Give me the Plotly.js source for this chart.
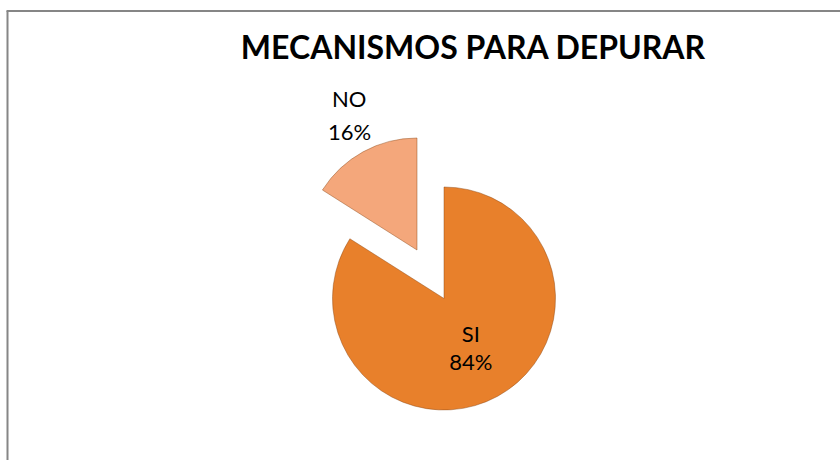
<!DOCTYPE html>
<html>
<head>
<meta charset="utf-8">
<script src="https://cdn.plot.ly/plotly-3.0.1.min.js"></script>
<style>html,body{margin:0;padding:0;background:#fff;}#chart{width:840px;height:460px;}</style>
</head>
<body>
<div id="chart"></div>
<script>
const categories = ['SI', 'NO'];
const values = [84, 16];
const chartTitle = 'MECANISMOS PARA DEPURAR';

const sliceColors = ['#E8802B', '#F4A77B'];
const fontFam = 'Lato, "Open Sans", sans-serif';

const total = values.reduce((a, b) => a + b, 0);
const pctText = values.map(v => Math.round(100 * v / total) + '%');

function pieTrace(showIdx, domain, textpos) {
  return {
    type: 'pie',
    labels: categories,
    values: values,
    sort: false,
    direction: 'clockwise',
    rotation: 0,
    domain: domain,
    marker: {
      colors: categories.map((c, i) => i === showIdx ? sliceColors[i] : 'rgba(0,0,0,0)'),
      line: {color: categories.map((c, i) => i === showIdx ? 'rgba(140,70,20,0.45)' : 'rgba(0,0,0,0)'), width: 1}
    },
    texttemplate: categories.map((c, i) => i === showIdx ? '%{label}<br>%{percent:.0%}' : ''),
    textposition: categories.map((c, i) => i === showIdx ? textpos : 'none'),
    insidetextorientation: 'horizontal',
    textfont: {family: fontFam, size: 22, color: '#000'},
    hoverinfo: 'skip',
    showlegend: false
  };
}

const data = [
  pieTrace(0, {x: [332/840, 556/840], y: [1 - 410/460, 1 - 187/460]}, 'inside'),
  pieTrace(1, {x: [305/840, 529/840], y: [1 - 362/460, 1 - 138/460]}, 'none')
];

const layout = {
  width: 840, height: 460,
  margin: {l: 0, r: 0, t: 0, b: 0},
  paper_bgcolor: '#fff',
  title: {
    text: '<b>' + chartTitle + '</b>',
    x: 473/840, xanchor: 'center',
    y: 1 - 48/460, yanchor: 'middle',
    font: {family: fontFam, size: 32, color: '#000'}
  },
  annotations: [
    {xref: 'paper', yref: 'paper', x: 349/840, y: 1 - 99/460, xanchor: 'center', yanchor: 'middle', showarrow: false,
     text: categories[1], font: {family: fontFam, size: 22, color: '#000'}},
    {xref: 'paper', yref: 'paper', x: 349/840, y: 1 - 131/460, xanchor: 'center', yanchor: 'middle', showarrow: false,
     text: pctText[1], font: {family: fontFam, size: 22, color: '#000'}}
  ],
  shapes: [
    {type: 'line', xref: 'paper', yref: 'paper', x0: 7.5/840, x1: 7.5/840, y0: -0.05, y1: 1 - 11/460, line: {color: '#868686', width: 2}},
    {type: 'line', xref: 'paper', yref: 'paper', x0: 6.5/840, x1: 1.05, y0: 1 - 11/460, y1: 1 - 11/460, line: {color: '#868686', width: 2}}
  ]
};

Plotly.newPlot('chart', data, layout, {displayModeBar: false, staticPlot: true});
</script>
</body>
</html>
